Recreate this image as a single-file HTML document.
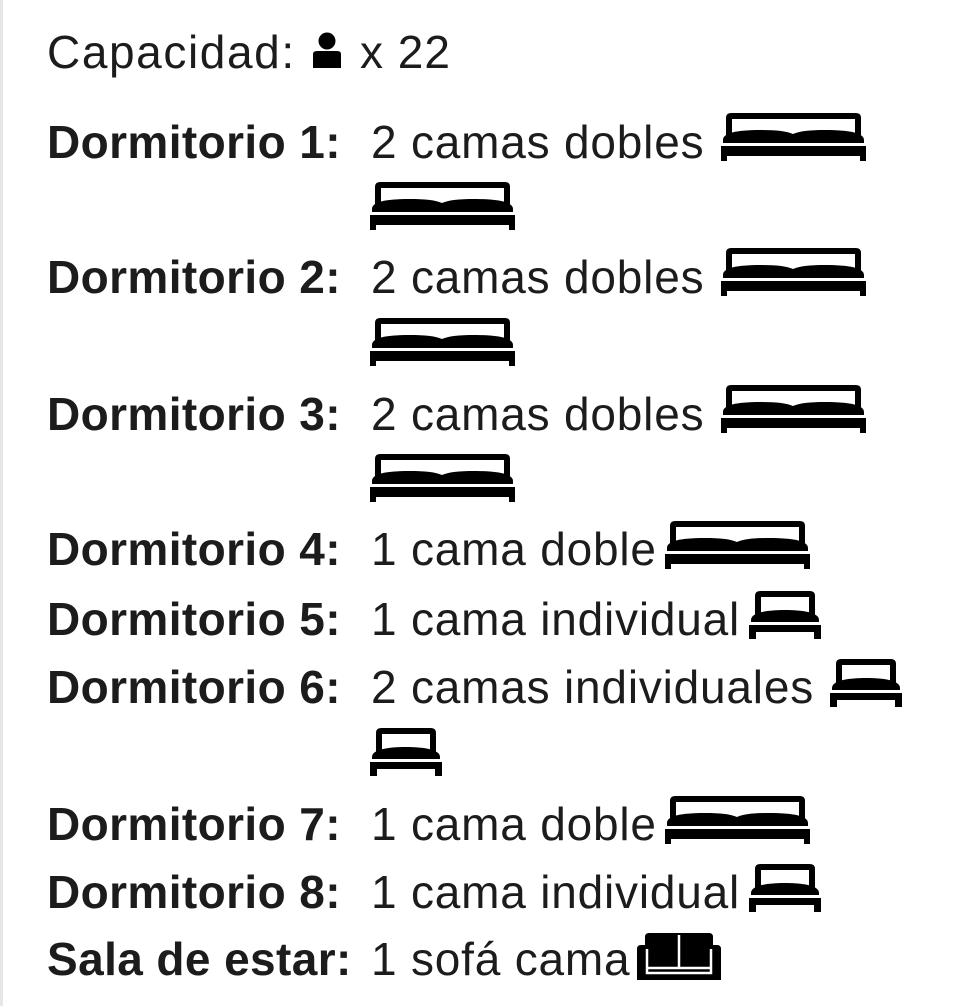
<!DOCTYPE html>
<html><head><meta charset="utf-8"><style>
html,body{margin:0;padding:0;background:#fff;}
body{width:960px;height:1006px;position:relative;overflow:hidden;}
.bd{position:absolute;left:0;top:0;width:3px;height:1006px;background:#e6e6e6;}
.t{position:absolute;font-family:"Liberation Sans",sans-serif;font-size:46px;line-height:46px;color:#1c1c1c;white-space:nowrap;}
.b{font-weight:bold;left:47px;letter-spacing:0.4px;}
.v{left:371px;letter-spacing:0.8px;}
svg{position:absolute;}
</style></head><body>
<div class="bd"></div>
<svg width="0" height="0" style="position:absolute">
<defs>
<symbol id="dbl" viewBox="0 0 145 48">
<path d="M10 0H135Q140 0 140 5V22H134V6H11V22H5V5Q5 0 10 0Z" fill="#000"/>
<path d="M2 27C2 20 15 17 40 17C55 17 65 18 72 21C79 18 89 17 104 17C129 17 143 20 143 27V30H2Z" fill="#000"/>
<path d="M0 33H145V48H139V43H6V48H0Z" fill="#000"/>
</symbol>
<symbol id="sgl" viewBox="0 0 72 48">
<path d="M11 0H61Q66 0 66 5V24H60V6H12V24H6V5Q6 0 11 0Z" fill="#000"/>
<path d="M2 29C2 21 20 19 36 19C52 19 70 21 70 29V31H2Z" fill="#000"/>
<path d="M0 34H72V48H65V41H7V48H0Z" fill="#000"/>
</symbol>
<symbol id="sofa" viewBox="0 0 84 47">
<path d="M12 0H72Q76 0 76 4V12H80Q84 12 84 16V47H0V16Q0 12 4 12H8V4Q8 0 12 0Z" fill="#000"/>
<path d="M10 16V40H74V16" stroke="#fff" stroke-width="2.5" fill="none"/>
<path d="M10 35H74" stroke="#fff" stroke-width="2.5"/>
<path d="M42 2V35" stroke="#fff" stroke-width="2.5"/>
</symbol>
</defs></svg>

<div class="t" style="left:47px;top:29px;letter-spacing:1.6px">Capacidad:</div>
<svg style="left:311px;top:32px" width="32" height="36" viewBox="0 0 32 36"><circle cx="16" cy="9" r="8.5" fill="#000"/><path d="M2 22Q2 19 6 19H26Q30 19 30 22V36H2Z" fill="#000"/></svg>
<div class="t" style="left:360px;top:29px;letter-spacing:1px">x 22</div>

<div class="t b" style="top:119px">Dormitorio 1:</div>
<div class="t v" style="top:119px">2 camas dobles</div>
<svg style="left:721px;top:113px" width="145" height="48"><use href="#dbl"/></svg>
<svg style="left:370px;top:182px" width="145" height="48"><use href="#dbl"/></svg>

<div class="t b" style="top:254px">Dormitorio 2:</div>
<div class="t v" style="top:254px">2 camas dobles</div>
<svg style="left:721px;top:248px" width="145" height="48"><use href="#dbl"/></svg>
<svg style="left:370px;top:318px" width="145" height="48"><use href="#dbl"/></svg>

<div class="t b" style="top:391px">Dormitorio 3:</div>
<div class="t v" style="top:391px">2 camas dobles</div>
<svg style="left:721px;top:385px" width="145" height="48"><use href="#dbl"/></svg>
<svg style="left:370px;top:454px" width="145" height="48"><use href="#dbl"/></svg>

<div class="t b" style="top:526px">Dormitorio 4:</div>
<div class="t v" style="top:526px">1 cama doble</div>
<svg style="left:665px;top:521px" width="145" height="48"><use href="#dbl"/></svg>

<div class="t b" style="top:596px">Dormitorio 5:</div>
<div class="t v" style="top:596px">1 cama individual</div>
<svg style="left:749px;top:591px" width="72" height="48"><use href="#sgl"/></svg>

<div class="t b" style="top:664px">Dormitorio 6:</div>
<div class="t v" style="top:664px">2 camas individuales</div>
<svg style="left:830px;top:659px" width="72" height="48"><use href="#sgl"/></svg>
<svg style="left:370px;top:728px" width="72" height="48"><use href="#sgl"/></svg>

<div class="t b" style="top:801px">Dormitorio 7:</div>
<div class="t v" style="top:801px">1 cama doble</div>
<svg style="left:665px;top:796px" width="145" height="48"><use href="#dbl"/></svg>

<div class="t b" style="top:869px">Dormitorio 8:</div>
<div class="t v" style="top:869px">1 cama individual</div>
<svg style="left:749px;top:864px" width="72" height="48"><use href="#sgl"/></svg>

<div class="t b" style="top:936px">Sala de estar:</div>
<div class="t v" style="top:936px">1 sofá cama</div>
<svg style="left:637px;top:933px" width="84" height="47"><use href="#sofa"/></svg>
</body></html>
